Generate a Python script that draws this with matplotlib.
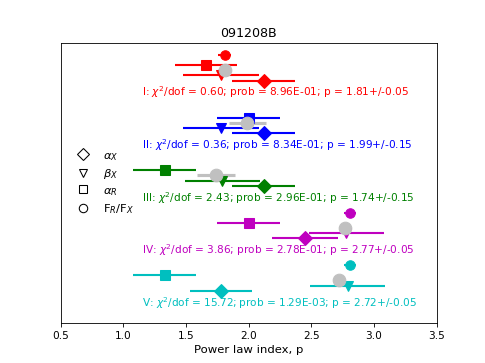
import numpy as np
import matplotlib
matplotlib.use("Agg")
import matplotlib.pyplot as plt
from matplotlib.lines import Line2D

colors = ['r', 'b', 'g', 'm', 'c']
labels = ['I', 'II', 'III', 'IV', 'V']
chi2dof = [0.60, 0.36, 2.43, 3.86, 15.72]
prob = [8.96e-01, 8.34e-01, 2.96e-01, 2.78e-01, 1.29e-03]
p_val = [1.81, 1.99, 1.74, 2.77, 2.72]
p_err = [0.05, 0.15, 0.15, 0.05, 0.05]

# F_R/F_X derived index (circle)
frfx_val = [1.81, np.nan, np.nan, 2.81, 2.81]
frfx_err = [0.05, np.nan, np.nan, 0.05, 0.05]
# alpha_R (square)
alpha_r = [1.66, 2.00, 1.33, 2.00, 1.33]
alpha_r_err = [0.25, 0.25, 0.25, 0.25, 0.25]
# beta_X (triangle)
beta_x = [1.78, 1.78, 1.79, 2.78, 2.79]
beta_x_err = [0.30, 0.30, 0.30, 0.30, 0.30]
# alpha_X (diamond)
alpha_x = [2.12, 2.12, 2.12, 2.45, 1.78]
alpha_x_err = [0.25, 0.25, 0.25, 0.26, 0.25]

fig, ax = plt.subplots(figsize=(6.4, 4.8), dpi=485 / 6.4)

for i, c in enumerate(colors):
    base = 4 - i
    ax.errorbar(frfx_val[i], base + 0.70, xerr=frfx_err[i], fmt='o', color=c,
                ms=9, lw=2)
    ax.errorbar(alpha_r[i], base + 0.51, xerr=alpha_r_err[i], fmt='s', color=c,
                ms=10, lw=2)
    ax.errorbar(beta_x[i], base + 0.31, xerr=beta_x_err[i], fmt='v', color=c,
                ms=9, lw=2)
    ax.errorbar(alpha_x[i], base + 0.21, xerr=alpha_x_err[i], fmt='D', color=c,
                ms=10, lw=2)
    ax.errorbar(p_val[i], base + 0.41, xerr=p_err[i], fmt='o', color='silver',
                ms=12, lw=3)
    ax.text(1.15, base, r"%s: $\chi^2$/dof = %.2f; prob = %.2E; p = %.2f+/-%.2f"
            % (labels[i], chi2dof[i], prob[i], p_val[i], p_err[i]),
            color=c, fontsize=10, va='center', ha='left')

handles = [Line2D([], [], ls='none', marker=m, mec='k', mfc='none', ms=8)
           for m in ['D', 'v', 's', 'o']]
ax.legend(handles, [r'$\alpha_X$', r'$\beta_X$', r'$\alpha_R$', r'F$_R$/F$_X$'],
          loc='center left', frameon=False, fontsize=11, labelspacing=0.4)

ax.set_xlim(0.5, 3.5)
ax.set_ylim(-0.4, 4.93)
ax.set_yticks([])
ax.set_xlabel("Power law index, p", fontsize=11)
ax.set_title("091208B")

fig.savefig("out.png")
